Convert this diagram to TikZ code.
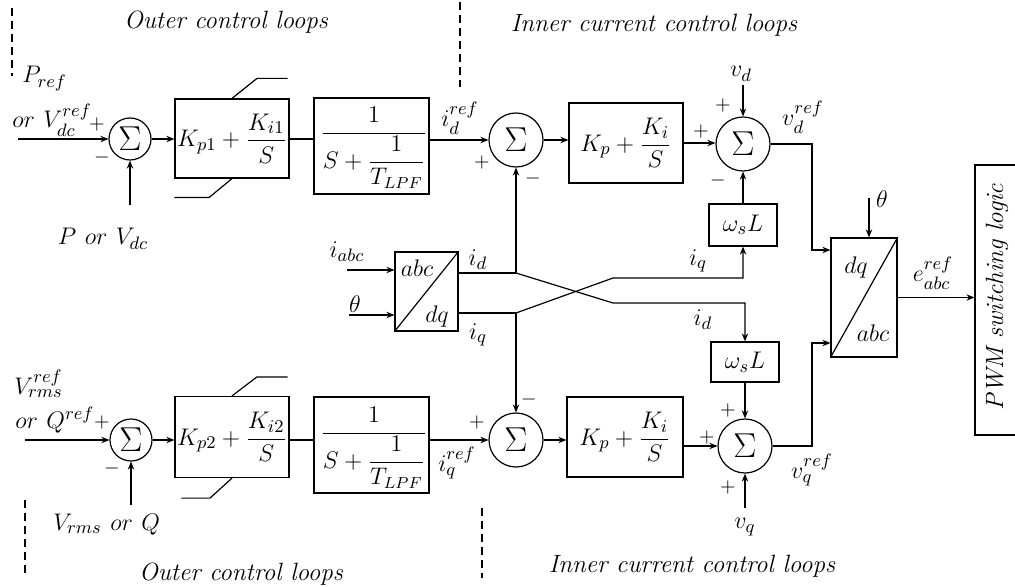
\documentclass[tikz,border=0pt]{standalone}
\usepackage{amsmath}
\usetikzlibrary{arrows.meta,calc}
\newcommand\myfs{\fontsize{13}{15}\selectfont}
\newcommand\mylp{\fontsize{12}{14}\selectfont}
\newcommand\mysg{\fontsize{10}{12}\selectfont}
\newcommand\mysum{\fontsize{17}{19}\selectfont}
\newcommand\myit{\fontsize{12.5}{15}\selectfont\itshape}
\begin{document}
\begin{tikzpicture}[x=0.5pt,y=-0.5pt,
  conn/.style={line width=0.6pt},
  arr/.style={conn,-{Stealth[length=4pt,width=3.2pt]}},
  blk/.style={draw,line width=0.6pt,inner sep=0pt,font=\myfs},
  sumc/.style={draw,circle,line width=0.6pt,inner sep=0pt,font=\mysum},
  lbl/.style={inner sep=0pt,font=\myfs},
  lpftxt/.style={inner sep=0pt,font=\mylp,anchor=base},
  sgn/.style={inner sep=0pt,font=\mysg},
  captxt/.style={inner sep=0pt,font=\myit},
  dsh/.style={line width=0.6pt,dash pattern=on 4pt off 2.5pt}]
\clip (0,0) rectangle (1015,587);
\fill[white] (0,0) rectangle (1015,587);

% captions and separators
\node[captxt] (c1) at (226,22) {Outer control loops};
\node[captxt] (c2) at (654,25) {Inner current control loops};
\node[captxt] (c3) at (241,574) {Outer control loops};
\node[captxt] (c4) at (692,566) {Inner current control loops};
\draw[dsh] (12,8) -- (12,76);
\draw[dsh] (460,2) -- (460,87);
\draw[dsh] (25,500) -- (25,576);
\draw[dsh] (482,508) -- (482,578);

% ---------- upper (d) channel ----------
\node[sumc, minimum size=21pt] (s1) at (130,139) {$\Sigma$};
\node[blk, minimum width=57pt, minimum height=39.5pt] (pi1) at (232,138.5) {$K_{p1}+\dfrac{K_{i1}}{S}$};
\node[blk, minimum width=57.5pt, minimum height=48pt] (lpf1) at (371.5,146) {};
\node[lpftxt] (lpt1) at (374,139) {$\dfrac{1}{S+\dfrac{1}{T_{LPF}}}$};
\node[sumc, minimum size=27pt] (s2) at (516,140) {$\Sigma$};
\node[blk, minimum width=57pt, minimum height=40pt] (pi2) at (626,143) {$K_{p}+\dfrac{K_{i}}{S}$};
\node[sumc, minimum size=27pt] (s3) at (743,144) {$\Sigma$};
\node[blk, minimum width=34pt, minimum height=21pt] (wl1) at (743,225) {$\omega_s L$};

\coordinate (in1) at (18,139);
\coordinate (fb1) at (130,205);
\draw[arr] (in1) -- (s1.west);
\draw[arr] (fb1) -- (s1.south);
\draw[arr] (s1.east) -- (s1.east -| pi1.west);
\draw[conn] (pi1.east |- s1) -- (lpf1.west |- s1);
\draw[arr] (lpf1.east |- s2) -- (s2.west);
\draw[arr] (s2.east) -- (s2.east -| pi2.west);
\draw[arr] (pi2.east) -- (pi2.east -| s3.west);
\draw[arr] (wl1.north) -- (s3.south);
\coordinate (vdin) at (743,85);
\draw[arr] (vdin) -- (s3.north);
% limiter
\draw[conn] (pi1.north) -- ++(25,-20) -- ($(pi1.north east)+(-2,-20)$);
\draw[conn] (pi1.south) -- ++(-23,19) -- ($(pi1.south west)+(0,19)$);

\node[lbl, anchor=base west] (lpr) at (22,83) {$P_{ref}$};
\node[lbl, anchor=base west] (lor1) at (12,128) {$or\ V_{dc}^{ref}$};
\node[sgn] (p1) at (97,125) {$+$};
\node[sgn] (m1) at (102,158) {$-$};
\node[lbl, anchor=base] (lp) at (103,245) {$P\ or\ V_{dc}$};
\node[lbl] (lidr) at (460,118) {$i_d^{ref}$};
\node[sgn] (p2) at (482,163) {$+$};
\node[sgn] (m2) at (533,179) {$-$};
\node[sgn] (p3) at (701,132) {$+$};
\node[sgn] (p4) at (723,106) {$+$};
\node[sgn] (m3) at (718,181) {$-$};
\node[lbl, anchor=base] (lvd) at (741,77) {$v_d$};
\node[lbl] (lvdr) at (803,117) {$v_d^{ref}$};

% ---------- lower (q) channel ----------
\node[sumc, minimum size=21pt] (s4) at (131,440) {$\Sigma$};
\node[blk, minimum width=57pt, minimum height=40.5pt] (pi3) at (232,437) {$K_{p2}+\dfrac{K_{i2}}{S}$};
\node[blk, minimum width=57.5pt, minimum height=48pt] (lpf2) at (371.5,445) {};
\node[lpftxt] (lpt2) at (374,439) {$\dfrac{1}{S+\dfrac{1}{T_{LPF}}}$};
\node[sumc, minimum size=27pt] (s5) at (516,440) {$\Sigma$};
\node[blk, minimum width=58pt, minimum height=40pt] (pi4) at (625,437) {$K_{p}+\dfrac{K_{i}}{S}$};
\node[sumc, minimum size=27pt] (s6) at (745,446) {$\Sigma$};
\node[blk, minimum width=34pt, minimum height=20pt] (wl2) at (745,362) {$\omega_s L$};

\coordinate (in2) at (25,440);
\coordinate (fb2) at (131,505);
\draw[arr] (in2) -- (s4.west);
\draw[arr] (fb2) -- (s4.south);
\draw[arr] (s4.east) -- (s4.east -| pi3.west);
\draw[conn] (pi3.east |- s4) -- (lpf2.west |- s4);
\draw[arr] (lpf2.east |- s5) -- (s5.west);
\draw[arr] (s5.east) -- (s5.east -| pi4.west);
\draw[arr] (pi4.east |- s6) -- (s6.west);
\draw[arr] (wl2.south) -- (s6.north);
\coordinate (vqin) at (745,508);
\draw[arr] (vqin) -- (s6.south);
\draw[conn] (pi3.north) -- ++(25,-19) -- ($(pi3.north east)+(-2,-19)$);
\draw[conn] (pi3.south) -- ++(-22,20) -- ($(pi3.south west)+(7,20)$);

\node[lbl, anchor=base west] (lvr) at (14,394) {$V_{rms}^{ref}$};
\node[lbl, anchor=base west] (lor2) at (15,428) {$or\ Q^{ref}$};
\node[sgn] (p5) at (102,422) {$+$};
\node[sgn] (m4) at (112,468) {$-$};
\node[lbl, anchor=base west] (lvrms) at (53,530) {$V_{rms}\ or\ Q$};
\node[lbl] (liqr) at (457,463) {$i_q^{ref}$};
\node[sgn] (p6) at (477,422) {$+$};
\node[sgn] (m5) at (529,399) {$-$};
\node[sgn] (p7) at (728,410) {$+$};
\node[sgn] (p8) at (707,437) {$+$};
\node[sgn] (p9) at (728,487) {$+$};
\node[lbl] (lvq) at (745,527) {$v_q$};
\node[lbl] (lvqr) at (812,470) {$v_q^{ref}$};

% ---------- abc/dq transform and cross ----------
\node[blk, minimum width=31.5pt, minimum height=39.5pt] (ad) at (426.5,291.5) {};
\draw[conn] (ad.south west) -- (ad.north east);
\node[lbl] (tabc) at (417,268) {$abc$};
\node[lbl] (tdq) at (437,316) {$dq$};
\coordinate (ia) at (347,270);
\coordinate (t1) at (349,315);
\draw[arr] (ia) -- (ia -| ad.west);
\draw[arr] (t1) -- (t1 -| ad.west);
\node[lbl] (lia) at (347,252) {$i_{abc}$};
\node[lbl] (lt1) at (355,304) {$\theta$};

\coordinate (jd) at (516,273);
\coordinate (jq) at (516,313);
\coordinate (cd) at (613,303);
\coordinate (cq) at (613,278);
\draw[conn] (ad.east |- jd) -- (jd);
\draw[conn] (ad.east |- jq) -- (jq);
\draw[arr] (jd) -- (s2.south);
\draw[arr] (jq) -- (s5.north);
\draw[arr] (jd) -- (cd) -| (wl2.north);
\draw[arr] (jq) -- (cq) -| (wl1.south);
\node[lbl] (lid) at (478,260) {$i_d$};
\node[lbl] (liq) at (478,335) {$i_q$};
\node[lbl] (liq2) at (698,261) {$i_q$};
\node[lbl] (lid2) at (703,320) {$i_d$};

% ---------- dq/abc and PWM ----------
\node[blk, minimum width=33pt, minimum height=59.5pt] (dq) at (864,297.5) {};
\draw[conn] (dq.south west) -- (dq.north east);
\node[lbl] (tdq2) at (856,268) {$dq$};
\node[lbl] (tabc2) at (873,333) {$abc$};
\coordinate (kd) at (812,250);
\coordinate (kq) at (812,343);
\draw[arr] (s3.east) -| (kd) -- (kd -| dq.west);
\draw[arr] (s6.east) -| (kq) -- (kq -| dq.west);
\coordinate (th2) at (869,198);
\draw[arr] (th2) -- (th2 |- dq.north);
\node[lbl] (lt2) at (882,199) {$\theta$};
\node[blk, minimum width=23pt, minimum height=135pt] (pwm) at (998,300) {};
\node[captxt, rotate=90] (tpwm) at (997,297) {PWM switching logic};
\draw[arr] (dq.east) -- (dq.east -| pwm.west);
\node[lbl] (le) at (933,273) {$e_{abc}^{ref}$};
\end{tikzpicture}
\end{document}
